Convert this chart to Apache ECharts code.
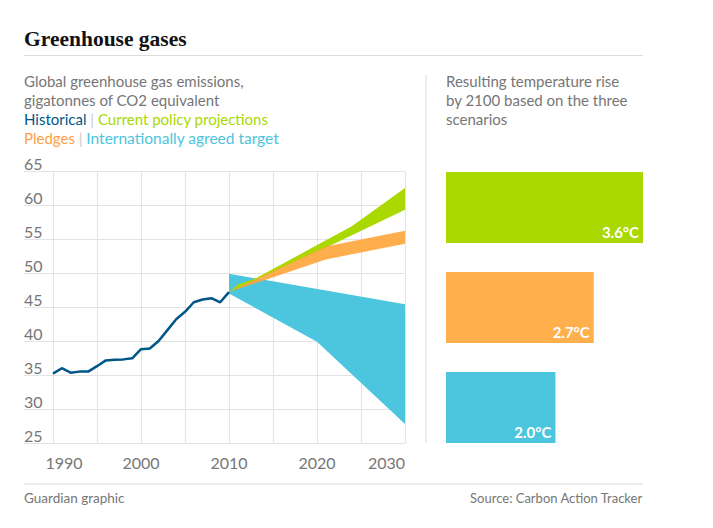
<!DOCTYPE html>
<html>
<head>
<meta charset="utf-8">
<title>Greenhouse gases</title>
<script src="https://cdn.jsdelivr.net/npm/echarts@6/dist/echarts.min.js"></script>
<style>
html, body { margin: 0; padding: 0; background: #fff; }
#chart { width: 713px; height: 528px; }
</style>
</head>
<body>
<div id="chart"></div>
<script>
// historical emissions, gigatonnes CO2e, one value a year
var histYears = [1990, 1991, 1992, 1993, 1994, 1995, 1996, 1997, 1998, 1999, 2000,
                 2001, 2002, 2003, 2004, 2005, 2006, 2007, 2008, 2009, 2010];
var histValues = [35.3, 36.1, 35.45, 35.6, 35.6, 36.4, 37.25, 37.35, 37.4, 37.55, 38.9,
                  39.0, 40.1, 41.7, 43.3, 44.4, 45.8, 46.2, 46.4, 45.8, 47.3];

// projection bands, [year, value] along the upper and lower edge
var policyUpper = [[2010, 47.3], [2011, 48.4], [2013, 49.3], [2024, 57.0], [2030, 62.6]];
var policyLower = [[2010, 47.3], [2020, 53.2], [2030, 59.4]];
var pledgeUpper = [[2010, 47.3], [2021, 54.0], [2030, 56.3]];
var pledgeLower = [[2010, 47.3], [2021, 52.1], [2030, 54.4]];
var targetUpper = [[2010, 50.0], [2030, 45.5]];
var targetLower = [[2010, 47.1], [2020, 40.0], [2030, 27.9]];

// temperature rise by 2100
var scenarios = ['Current policy projections', 'Pledges', 'Internationally agreed target'];
var tempRise = [3.6, 2.7, 2.0];

var colHist = '#005689';
var colPolicy = '#aad801';
var colPledge = '#ffb04c';
var colTarget = '#4cc5de';
var barColors = [colPolicy, colPledge, colTarget];

var grey = '#767676';
var rule = '#dcdcdc';
var sans = 'Lato, "Open Sans", sans-serif';

var histData = [];
for (var i = 0; i < histYears.length; i++) {
	histData.push([histYears[i], histValues[i]]);
}

// polygon between the two edges, placed with the axis scales
function band(upper, lower, color) {
	return function (params, api) {
		var pts = [];
		for (var i = 0; i < upper.length; i++) pts.push(api.coord(upper[i]));
		for (var j = lower.length - 1; j >= 0; j--) pts.push(api.coord(lower[j]));
		return {
			type: 'polygon',
			shape: { points: pts },
			style: { fill: color }
		};
	};
}

var myChart = echarts.init(document.getElementById('chart'), null, { renderer: 'svg' });

var gridTop = 171.7, gridH = 272;

var option = {
	animation: false,
	backgroundColor: '#fff',
	title: [
		{
			text: 'Greenhouse gases', left: 24, top: 28, padding: 0,
			textStyle: { fontFamily: '"Liberation Serif", serif', fontWeight: 'bold', fontSize: 21.5, color: '#121212' }
		},
		{
			text: 'Global greenhouse gas emissions,\ngigatonnes of CO2 equivalent\n'
				+ '{h|Historical} {s||} {c|Current policy projections}\n'
				+ '{p|Pledges} {s||} {t|Internationally agreed target}',
			left: 24, top: 71, padding: 0,
			textStyle: {
				fontFamily: sans, fontWeight: 'normal', fontSize: 15, lineHeight: 19, color: grey,
				rich: {
					h: { color: colHist, fontFamily: sans, fontSize: 15, lineHeight: 19 },
					c: { color: colPolicy, fontFamily: sans, fontSize: 15, lineHeight: 19 },
					p: { color: '#ff9f45', fontFamily: sans, fontSize: 15, lineHeight: 19 },
					t: { color: colTarget, fontFamily: sans, fontSize: 15.5, lineHeight: 19 },
					s: { color: '#cccccc', fontFamily: sans, fontSize: 15, lineHeight: 19 }
				}
			}
		},
		{
			text: 'Resulting temperature rise\nby 2100 based on the three\nscenarios',
			left: 446, top: 71, padding: 0,
			textStyle: { fontFamily: sans, fontWeight: 'normal', fontSize: 15, lineHeight: 19, color: grey }
		},
		{
			text: 'Guardian graphic', left: 24, top: 491, padding: 0,
			textStyle: { fontFamily: sans, fontWeight: 'normal', fontSize: 13.5, color: grey }
		},
		{
			text: 'Source: Carbon Action Tracker', right: 70, top: 491, padding: 0,
			textStyle: { fontFamily: sans, fontWeight: 'normal', fontSize: 13, color: grey }
		}
	],
	graphic: [
		{ type: 'line', shape: { x1: 24, y1: 55.5, x2: 643, y2: 55.5 }, style: { stroke: rule, lineWidth: 1 } },
		{ type: 'line', shape: { x1: 426, y1: 75, x2: 426, y2: 443 }, style: { stroke: rule, lineWidth: 1 } },
		{ type: 'line', shape: { x1: 24, y1: 484, x2: 643, y2: 484 }, style: { stroke: rule, lineWidth: 1 } }
	],
	grid: [
		// horizontal grid lines and the value labels
		{ left: 24, top: gridTop, width: 381, height: gridH },
		// plotting area from 1990
		{ left: 53, top: gridTop, width: 352, height: gridH },
		// temperature bars
		{ left: 446, top: 157.5, width: 197, height: 300 }
	],
	xAxis: [
		{ gridIndex: 0, type: 'value', min: 0, max: 1, show: false },
		{
			gridIndex: 1, type: 'value', min: 1990, max: 2030, interval: 5,
			axisLine: { show: false }, axisTick: { show: false },
			splitLine: { show: true, lineStyle: { color: '#e3e3e3', width: 1 } },
			axisLabel: {
				margin: 11, color: grey, fontFamily: sans, fontSize: 16,
				formatter: function (v) {
					if (v % 10 !== 0) return '';
					if (v === 1990) return '{l|' + v + '}';
					if (v === 2030) return '{r|' + v + '}';
					return '{n|' + v + '}';
				},
				rich: {
					l: { padding: [0, 0, 0, 22], color: grey, fontFamily: sans, fontSize: 16 },
					r: { padding: [0, 37, 0, 0], color: grey, fontFamily: sans, fontSize: 16 },
					n: { color: grey, fontFamily: sans, fontSize: 16 }
				}
			}
		},
		{ gridIndex: 2, type: 'value', min: 0, max: 3.6, show: false }
	],
	yAxis: [
		{
			gridIndex: 0, type: 'value', min: 25, max: 65, interval: 5,
			axisLine: { show: false }, axisTick: { show: false },
			splitLine: { show: true, lineStyle: { color: '#e3e3e3', width: 1 } },
			axisLabel: {
				inside: true, margin: 0, verticalAlign: 'bottom',
				color: grey, fontFamily: sans, fontSize: 16
			}
		},
		{ gridIndex: 1, type: 'value', min: 25, max: 65, show: false },
		{ gridIndex: 2, type: 'category', data: scenarios, inverse: true, show: false }
	],
	series: [
		{
			name: 'Internationally agreed target', type: 'custom', xAxisIndex: 1, yAxisIndex: 1,
			silent: true, data: [targetUpper[0]],
			renderItem: band(targetUpper, targetLower, colTarget)
		},
		{
			name: 'Current policy projections', type: 'custom', xAxisIndex: 1, yAxisIndex: 1,
			silent: true, data: [policyUpper[0]],
			renderItem: band(policyUpper, policyLower, colPolicy)
		},
		{
			name: 'Pledges', type: 'custom', xAxisIndex: 1, yAxisIndex: 1,
			silent: true, data: [pledgeUpper[0]],
			renderItem: band(pledgeUpper, pledgeLower, 'rgba(255, 163, 52, 0.88)')
		},
		{
			name: 'Historical', type: 'line', xAxisIndex: 1, yAxisIndex: 1,
			data: histData, showSymbol: false, silent: true,
			lineStyle: { color: colHist, width: 2.5 }
		},
		{
			name: 'Temperature rise', type: 'bar', xAxisIndex: 2, yAxisIndex: 2,
			barWidth: 71, silent: true,
			data: tempRise.map(function (v, i) {
				return { value: v, itemStyle: { color: barColors[i] } };
			}),
			label: {
				show: true, position: 'insideBottomRight', distance: 4,
				color: '#fff', fontFamily: sans, fontSize: 15, fontWeight: 'bold',
				formatter: function (p) { return p.value.toFixed(1) + '°C'; }
			}
		}
	]
};

myChart.setOption(option);
</script>
</body>
</html>
